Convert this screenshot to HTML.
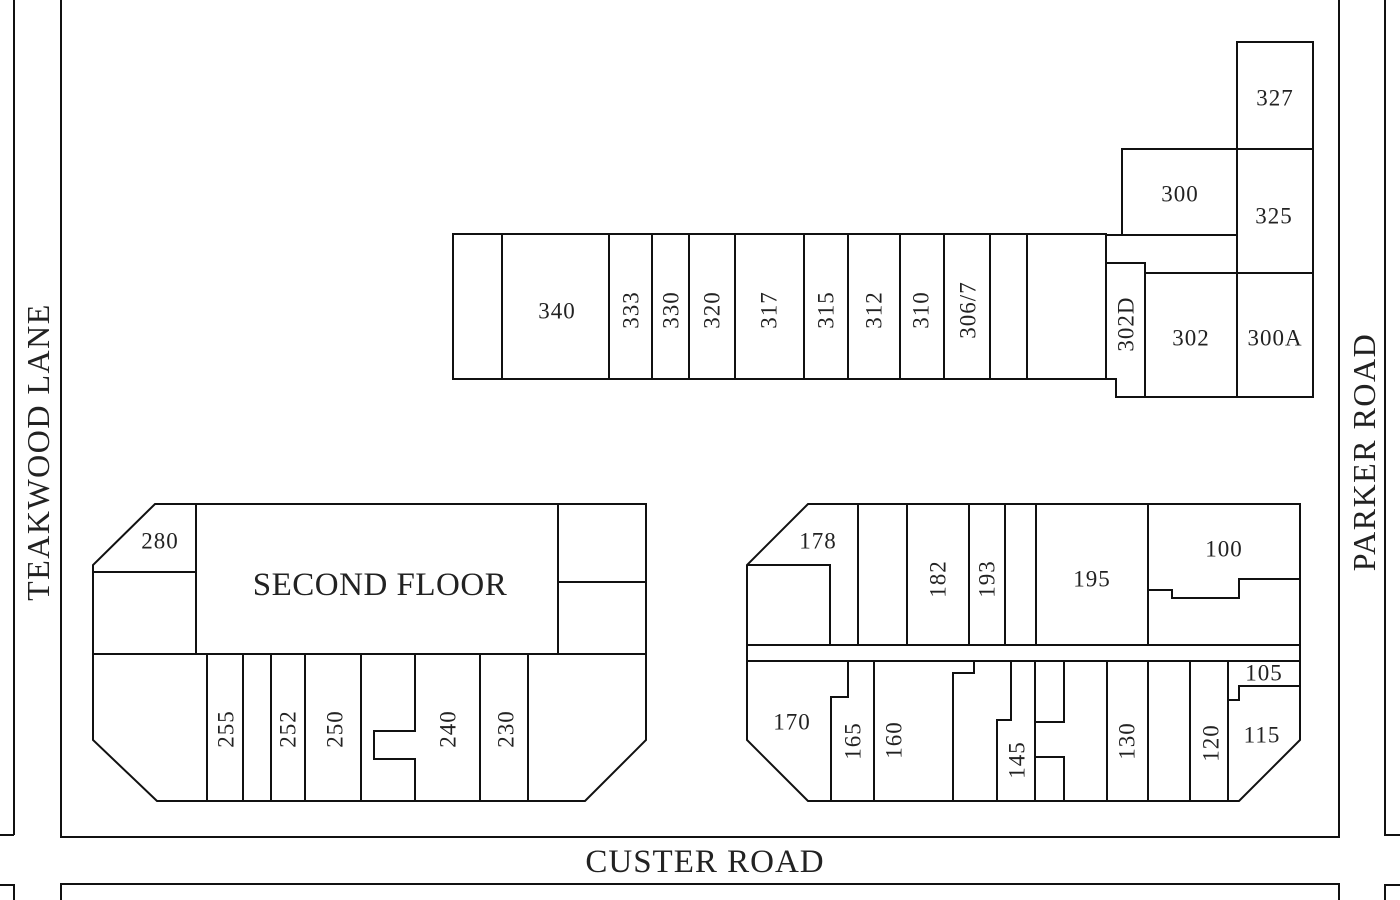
<!DOCTYPE html>
<html><head><meta charset="utf-8"><style>
html,body{margin:0;padding:0;background:#fff;}
svg{display:block;}
text{font-family:"Liberation Serif",serif;fill:#222;text-anchor:middle;dominant-baseline:central;}
.n{font-size:23px;letter-spacing:1px;}
</style></head><body>
<svg width="1400" height="900" viewBox="0 0 1400 900" xmlns="http://www.w3.org/2000/svg">
<g fill="none" stroke="#111" stroke-width="2">
<line x1="14" y1="0" x2="14" y2="835"/>
<line x1="0" y1="835" x2="14" y2="835"/>
<polyline points="0,885 14,885 14,900"/>
<polyline points="61,0 61,837 1339,837 1339,0"/>
<polyline points="61,900 61,884 1339,884 1339,900"/>
<polyline points="1400,835 1385,835 1385,0"/>
<polyline points="1400,885 1385,885 1385,900"/>
<rect x="453" y="234" width="653" height="145"/>
<line x1="502" y1="234" x2="502" y2="379"/>
<line x1="609" y1="234" x2="609" y2="379"/>
<line x1="652" y1="234" x2="652" y2="379"/>
<line x1="689" y1="234" x2="689" y2="379"/>
<line x1="735" y1="234" x2="735" y2="379"/>
<line x1="804" y1="234" x2="804" y2="379"/>
<line x1="848" y1="234" x2="848" y2="379"/>
<line x1="900" y1="234" x2="900" y2="379"/>
<line x1="944" y1="234" x2="944" y2="379"/>
<line x1="990" y1="234" x2="990" y2="379"/>
<line x1="1027" y1="234" x2="1027" y2="379"/>
<line x1="1106" y1="235" x2="1237" y2="235"/>
<polyline points="1122,235 1122,149 1237,149"/>
<rect x="1237" y="42" width="76" height="355"/>
<line x1="1237" y1="149" x2="1313" y2="149"/>
<line x1="1145" y1="273" x2="1313" y2="273"/>
<polyline points="1106,263 1145,263 1145,397"/>
<polyline points="1106,379 1116,379 1116,397 1237,397"/>
<polygon points="155,504 646,504 646,740 585,801 157,801 93,740 93,565"/>
<line x1="196" y1="504" x2="196" y2="654"/>
<line x1="93" y1="572" x2="196" y2="572"/>
<line x1="558" y1="504" x2="558" y2="654"/>
<line x1="558" y1="582" x2="646" y2="582"/>
<line x1="93" y1="654" x2="646" y2="654"/>
<line x1="207" y1="654" x2="207" y2="801"/>
<line x1="243" y1="654" x2="243" y2="801"/>
<line x1="271" y1="654" x2="271" y2="801"/>
<line x1="305" y1="654" x2="305" y2="801"/>
<line x1="361" y1="654" x2="361" y2="801"/>
<polyline points="415,654 415,731 374,731 374,759 415,759 415,801"/>
<line x1="480" y1="654" x2="480" y2="801"/>
<line x1="528" y1="654" x2="528" y2="801"/>
<polygon points="808,504 1300,504 1300,740 1239,801 808,801 747,740 747,565"/>
<polyline points="747,565 830,565 830,645"/>
<line x1="858" y1="504" x2="858" y2="645"/>
<line x1="907" y1="504" x2="907" y2="645"/>
<line x1="969" y1="504" x2="969" y2="645"/>
<line x1="1005" y1="504" x2="1005" y2="645"/>
<line x1="1036" y1="504" x2="1036" y2="645"/>
<line x1="1148" y1="504" x2="1148" y2="645"/>
<polyline points="1148,590 1172,590 1172,598 1239,598 1239,579 1300,579"/>
<line x1="747" y1="645" x2="1300" y2="645"/>
<line x1="747" y1="661" x2="1300" y2="661"/>
<polyline points="848,661 848,697 831,697 831,801"/>
<line x1="874" y1="661" x2="874" y2="801"/>
<polyline points="974,661 974,673 953,673 953,801"/>
<polyline points="1011,661 1011,720 997,720 997,801"/>
<line x1="1035" y1="661" x2="1035" y2="801"/>
<polyline points="1064,661 1064,722 1035,722"/>
<polyline points="1035,757 1064,757 1064,801"/>
<line x1="1107" y1="661" x2="1107" y2="801"/>
<line x1="1148" y1="661" x2="1148" y2="801"/>
<line x1="1190" y1="661" x2="1190" y2="801"/>
<line x1="1228" y1="661" x2="1228" y2="801"/>
<polyline points="1300,686 1239,686 1239,700 1228,700"/>
</g>
<g>
<text class="n" x="1275" y="98">327</text>
<text class="n" x="1180" y="194">300</text>
<text class="n" x="1274" y="216">325</text>
<text class="n" x="557" y="311">340</text>
<text class="n" transform="translate(631,310) rotate(-90)">333</text>
<text class="n" transform="translate(671,310) rotate(-90)">330</text>
<text class="n" transform="translate(712,310) rotate(-90)">320</text>
<text class="n" transform="translate(769,310) rotate(-90)">317</text>
<text class="n" transform="translate(826,310) rotate(-90)">315</text>
<text class="n" transform="translate(874,310) rotate(-90)">312</text>
<text class="n" transform="translate(921,310) rotate(-90)">310</text>
<text class="n" transform="translate(968,310) rotate(-90)">306/7</text>
<text class="n" transform="translate(1126,324) rotate(-90)">302D</text>
<text class="n" x="1191" y="338">302</text>
<text class="n" x="1275" y="338">300A</text>
<text class="n" x="160" y="541">280</text>
<text x="380" y="585" style="font-size:33px;letter-spacing:0.5px">SECOND FLOOR</text>
<text class="n" transform="translate(226,729) rotate(-90)">255</text>
<text class="n" transform="translate(288,729) rotate(-90)">252</text>
<text class="n" transform="translate(335,729) rotate(-90)">250</text>
<text class="n" transform="translate(448,729) rotate(-90)">240</text>
<text class="n" transform="translate(506,729) rotate(-90)">230</text>
<text class="n" x="818" y="541">178</text>
<text class="n" transform="translate(938,579) rotate(-90)">182</text>
<text class="n" transform="translate(987,579) rotate(-90)">193</text>
<text class="n" x="1092" y="579">195</text>
<text class="n" x="1224" y="549">100</text>
<text class="n" x="792" y="722">170</text>
<text class="n" transform="translate(853,741) rotate(-90)">165</text>
<text class="n" transform="translate(894,740) rotate(-90)">160</text>
<text class="n" transform="translate(1017,760) rotate(-90)">145</text>
<text class="n" transform="translate(1127,741) rotate(-90)">130</text>
<text class="n" transform="translate(1211,743) rotate(-90)">120</text>
<text class="n" x="1264" y="673">105</text>
<text class="n" x="1262" y="735">115</text>
</g>
<text style="font-size:32px;letter-spacing:1.5px" transform="translate(38,452) rotate(-90)">TEAKWOOD LANE</text>
<text style="font-size:32px;letter-spacing:1.5px" transform="translate(1364,452) rotate(-90)">PARKER ROAD</text>
<text style="font-size:33px;letter-spacing:1px" x="705" y="862">CUSTER ROAD</text>
</svg>
</body></html>
